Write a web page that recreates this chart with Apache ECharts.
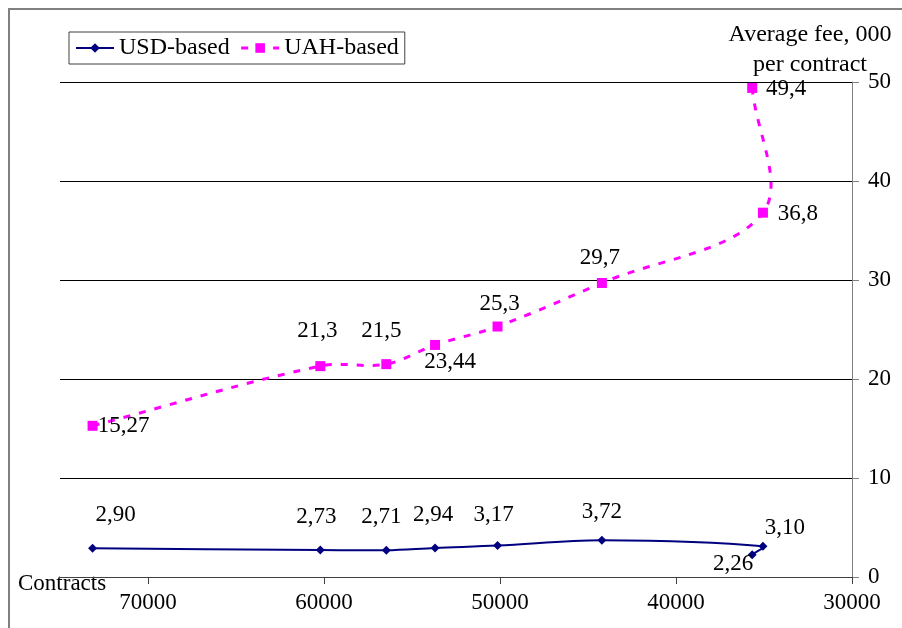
<!DOCTYPE html>
<html>
<head>
<meta charset="utf-8">
<script src="https://cdn.jsdelivr.net/npm/echarts@6/dist/echarts.min.js"></script>
<style>
html,body{margin:0;padding:0;background:#fff;}
#chart{width:902px;height:628px;}
</style>
</head>
<body>
<div id="chart"></div>
<script>
// ---- data ----
var contracts = [73150, 60210, 56460, 53690, 50140, 44210, 35060, 35670];
var usdFee = [2.90, 2.73, 2.71, 2.94, 3.17, 3.72, 3.10, 2.26];
var uahFee = [15.27, 21.3, 21.5, 23.44, 25.3, 29.7, 36.8, 49.4];
var seriesNames = ['USD-based', 'UAH-based'];
var xTicks = [30000, 40000, 50000, 60000, 70000];
var yTitle = ['Average fee, 000', 'per contract'];
var xTitle = 'Contracts';

// label placement (style, not data)
var usdLabelOffsets = [[23,-33],[-4,-33],[-5,-33],[-2,-33],[-4,-31],[0,-28],[22,-18],[-19,9]];
var uahLabelOffsets = [[31,0],[-3,-35],[-5,-33],[15,17],[2,-23],[-2,-25],[35,1],[34,1]];

var FONT = "'Liberation Serif','DejaVu Serif',serif";
var FS = 23;
var USD_COLOR = '#000080';
var UAH_COLOR = '#FF00FF';
var TENSION = 0.35;

function fmtUsd(v){ return v.toFixed(2).replace('.', ','); }
function fmtUah(v){ return String(v).replace('.', ','); }

function build(vals, offs, fmt){
  return vals.map(function(v, i){
    return {
      value: [contracts[i], v],
      label: { show: true, position: 'inside', offset: offs[i], formatter: fmt(v),
               color: '#000', fontFamily: FONT, fontSize: FS }
    };
  });
}

function dist(a, b){ return Math.sqrt((a[0]-b[0])*(a[0]-b[0]) + (a[1]-b[1])*(a[1]-b[1])); }

// smoothed curve (chord-weighted cubic Bezier) through points mapped by the axes
function smoothCurve(vals, lineStyle){
  return function(params, api){
    if (params.dataIndex !== 0) return null;
    var p = contracts.map(function(c, i){ return api.coord([c, vals[i]]); });
    var n = p.length;
    var d = 'M' + p[0][0] + ' ' + p[0][1];
    for (var i = 0; i < n - 1; i++) {
      var p0 = p[i - 1] || p[i], p1 = p[i], p2 = p[i + 1], p3 = p[i + 2] || p[i + 1];
      var l01 = dist(p0, p1), l12 = dist(p1, p2), l23 = dist(p2, p3);
      var r1 = l12 / ((l01 + l12) || 1), r2 = l12 / ((l12 + l23) || 1);
      var c1x = p1[0] + (p2[0] - p0[0]) * TENSION * r1, c1y = p1[1] + (p2[1] - p0[1]) * TENSION * r1;
      var c2x = p2[0] - (p3[0] - p1[0]) * TENSION * r2, c2y = p2[1] - (p3[1] - p1[1]) * TENSION * r2;
      d += ' C' + c1x + ' ' + c1y + ' ' + c2x + ' ' + c2y + ' ' + p2[0] + ' ' + p2[1];
    }
    return { type: 'path', shape: { pathData: d }, style: lineStyle, silent: true };
  };
}

var chart = echarts.init(document.getElementById('chart'), null, {renderer: 'canvas'});
chart.setOption({
  backgroundColor: '#fff',
  animation: false,
  textStyle: { fontFamily: FONT },
  grid: { left: 60, right: 50, top: 82, bottom: 51, containLabel: false },
  legend: {
    data: [
      { name: seriesNames[0], lineStyle: { opacity: 1, color: USD_COLOR, width: 2, type: 'solid' } },
      { name: seriesNames[1], lineStyle: { opacity: 1, color: UAH_COLOR, width: 3, type: [7, 9] } }
    ],
    left: 69, top: 32,
    padding: [3, 6],
    itemGap: 10,
    itemWidth: 38, itemHeight: 12,
    borderColor: '#404040', borderWidth: 1,
    textStyle: { fontFamily: FONT, fontSize: 24, lineHeight: 26, color: '#000' }
  },
  xAxis: {
    type: 'value', inverse: true,
    min: 30000, max: 75000, interval: 10000,
    axisLine: { show: true, onZero: false, lineStyle: { color: '#404040', width: 1 } },
    axisTick: { show: true, inside: false, length: 7, customValues: xTicks, lineStyle: { color: '#404040' } },
    axisLabel: { customValues: xTicks, margin: 14, color: '#000', fontFamily: FONT, fontSize: FS,
                 formatter: function(v){ return String(v); } },
    splitLine: { show: false }
  },
  yAxis: {
    type: 'value', position: 'right',
    min: 0, max: 50, interval: 10,
    axisLine: { show: true, lineStyle: { color: '#808080', width: 1 } },
    axisTick: { show: true, length: 7, lineStyle: { color: '#808080' } },
    axisLabel: { margin: 16, color: '#000', fontFamily: FONT, fontSize: FS },
    splitLine: { show: true, lineStyle: { color: '#000', width: 1 } }
  },
  graphic: [
    { type: 'rect', shape: { x: 9, y: 9, width: 1200, height: 1200 }, style: { fill: 'none', stroke: '#808080', lineWidth: 2 }, silent: true, z: -1 },
    { type: 'text', x: 810, y: 35, style: { text: yTitle[0], font: '24px ' + FONT, fill: '#000', align: 'center', verticalAlign: 'middle' } },
    { type: 'text', x: 810, y: 65, style: { text: yTitle[1], font: '24px ' + FONT, fill: '#000', align: 'center', verticalAlign: 'middle' } },
    { type: 'text', x: 18, y: 584, style: { text: xTitle, font: FS + 'px ' + FONT, fill: '#000', align: 'left', verticalAlign: 'middle' } }
  ],
  series: [
    {
      type: 'custom', coordinateSystem: 'cartesian2d', z: 2,
      renderItem: smoothCurve(usdFee, { fill: 'none', stroke: USD_COLOR, lineWidth: 2 }),
      data: [[contracts[0], usdFee[0]]]
    },
    {
      type: 'custom', coordinateSystem: 'cartesian2d', z: 2,
      renderItem: smoothCurve(uahFee, { fill: 'none', stroke: UAH_COLOR, lineWidth: 3, lineDash: [7, 9] }),
      data: [[contracts[0], uahFee[0]]]
    },
    {
      name: seriesNames[0], type: 'line',
      symbol: 'diamond', symbolSize: 9,
      itemStyle: { color: USD_COLOR },
      lineStyle: { color: USD_COLOR, width: 2, opacity: 0 },
      data: build(usdFee, usdLabelOffsets, fmtUsd),
      z: 3
    },
    {
      name: seriesNames[1], type: 'line',
      symbol: 'rect', symbolSize: 10,
      itemStyle: { color: UAH_COLOR },
      lineStyle: { color: UAH_COLOR, width: 3, type: [7, 9], opacity: 0 },
      data: build(uahFee, uahLabelOffsets, fmtUah),
      z: 3
    }
  ]
});
</script>
</body>
</html>
